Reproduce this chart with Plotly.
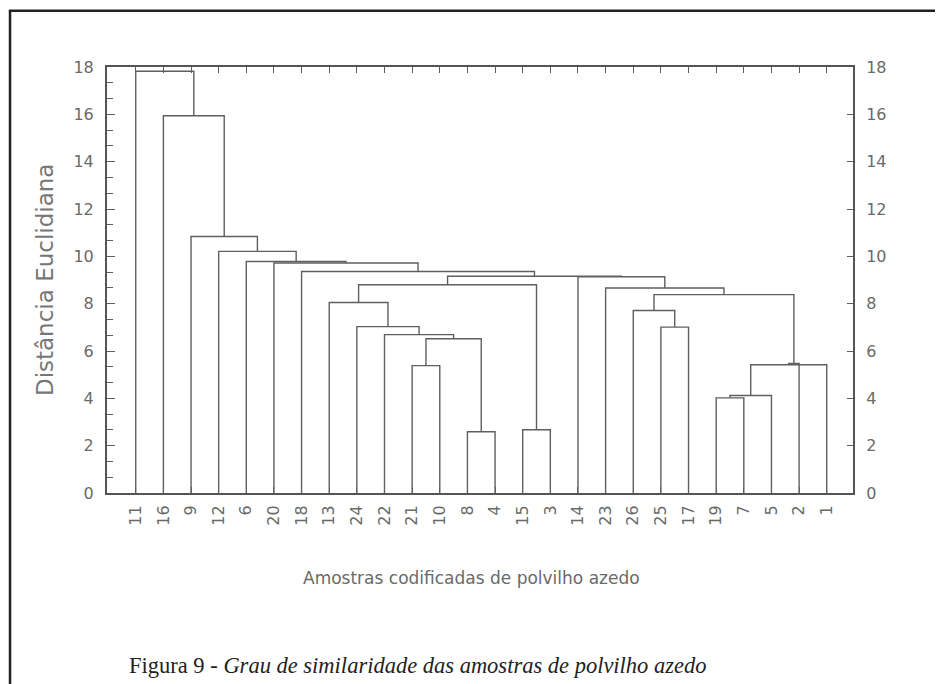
import plotly.graph_objects as go

# ---------------- data ----------------
leaf_labels = ["11", "16", "9", "12", "6", "20", "18", "13", "24", "22", "21", "10", "8",
               "4", "15", "3", "14", "23", "26", "25", "17", "19", "7", "5", "2", "1"]

# merges (bottom-up): children are leaf labels or cluster ids "C<n>"
merge_left = ["8", "15", "19", "C2", "21", "C3", "C5", "C4", "22", "25", "24", "26", "13",
              "C11", "23", "C12", "14", "C15", "18", "20", "6", "12", "9", "16", "11"]
merge_right = ["4", "3", "7", "5", "10", "1", "2", "C0", "C7", "17", "C8", "C9", "C10",
               "C6", "C13", "C1", "C14", "C16", "C17", "C18", "C19", "C20", "C21", "C22", "C23"]
merge_height = [2.59, 2.67, 4.02, 4.12, 5.38, 5.42, 5.47, 6.52, 6.69, 7.01, 7.03, 7.71, 8.05,
                8.38, 8.66, 8.80, 9.14, 9.16, 9.36, 9.72, 9.78, 10.21, 10.84, 15.94, 17.82]

y_ticks = [0, 2, 4, 6, 8, 10, 12, 14, 16, 18]

x_title = "Amostras codificadas de polvilho azedo"
y_title = "Distância Euclidiana"
caption_main = "Figura 9 - "
caption_italic = "Grau de similaridade das amostras de polvilho azedo"

# ---------------- dendrogram geometry from the tree ----------------
pos = {lab: (float(i), 0.0) for i, lab in enumerate(leaf_labels)}
xs, ys = [], []
for k, (a, b, h) in enumerate(zip(merge_left, merge_right, merge_height)):
    xa, ha = pos[a]
    xb, hb = pos[b]
    xs += [xa, xa, xb, xb, None]
    ys += [ha, h, h, hb, None]
    pos["C%d" % k] = ((xa + xb) / 2.0, h)

LINE = "#5f5f5f"
TXT = "#6a6a6a"
AX_FONT = "DejaVu Sans"

fig = go.Figure()
fig.add_trace(go.Scatter(x=xs, y=ys, mode="lines",
                         line=dict(color=LINE, width=1.4),
                         hoverinfo="skip", showlegend=False))
# invisible trace to activate the right-hand axis
fig.add_trace(go.Scatter(x=[0], y=[0], yaxis="y2", mode="lines",
                         line=dict(width=0), hoverinfo="skip", showlegend=False))

n = len(leaf_labels)
fig.update_layout(
    width=927, height=676,
    paper_bgcolor="white", plot_bgcolor="white",
    margin=dict(l=99, r=82, t=59, b=191),
    xaxis=dict(range=[-1.04, n - 0.05], tickvals=list(range(n)), ticktext=leaf_labels,
               tickangle=-90, ticks="inside", ticklen=6, tickwidth=1.4, tickcolor=LINE,
               showline=True, linecolor="#555555", linewidth=2, mirror="ticks",
               showgrid=False, zeroline=False,
               tickfont=dict(family=AX_FONT, size=16, color=TXT),
               ticklabelstandoff=4),
    yaxis=dict(range=[0, 18], tickvals=y_ticks, ticks="inside", ticklen=8, tickwidth=1.4,
               tickcolor=LINE, showline=True, linecolor="#555555", linewidth=2,
               showgrid=False, zeroline=False,
               minor=dict(dtick=2 / 3, ticks="inside", ticklen=6, tickwidth=1.4,
                          tickcolor=LINE, showgrid=False),
               tickfont=dict(family=AX_FONT, size=16, color=TXT),
               ticklabelstandoff=8),
    yaxis2=dict(range=[0, 18], tickvals=y_ticks, overlaying="y", side="right",
                ticks="inside", ticklen=6, tickwidth=1.4, tickcolor=LINE,
                showline=True, linecolor="#555555", linewidth=2,
                showgrid=False, zeroline=False,
                tickfont=dict(family=AX_FONT, size=16, color=TXT),
                ticklabelstandoff=8),
    annotations=[
        dict(text=x_title, xref="paper", yref="paper", x=0.488, y=-0.199,
             xanchor="center", yanchor="middle", showarrow=False,
             font=dict(family=AX_FONT, size=17, color=TXT)),
        dict(text=y_title, xref="paper", yref="paper", x=-0.083, y=0.50,
             xanchor="center", yanchor="middle", showarrow=False, textangle=-90,
             font=dict(family=AX_FONT, size=23, color="#777777")),
        dict(text=caption_main + "<i>" + caption_italic + "</i>",
             xref="paper", yref="paper", x=0.4175, y=-0.404,
             xanchor="center", yanchor="middle", showarrow=False,
             font=dict(family="Liberation Serif", size=22.5, color="#222222")),
    ],
    shapes=[
        dict(type="line", xref="paper", yref="paper", x0=-0.130, x1=-0.130,
             y0=-0.47, y1=1.132, line=dict(color="#222222", width=2.5)),
        dict(type="line", xref="paper", yref="paper", x0=-0.1316, x1=1.13,
             y0=1.132, y1=1.132, line=dict(color="#222222", width=2.5)),
    ],
)

fig.write_html("out.html")
